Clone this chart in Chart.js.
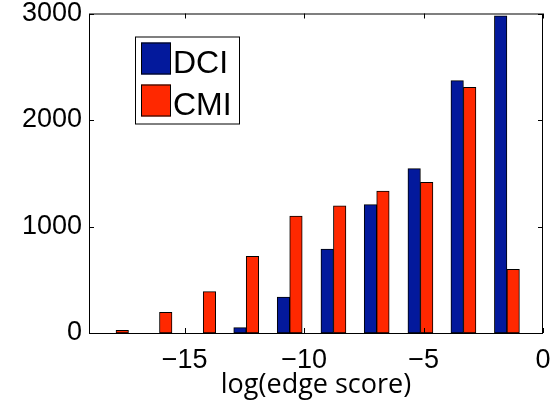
<!DOCTYPE html>
<html>
<head>
<meta charset="utf-8">
<script src="https://cdn.jsdelivr.net/npm/chart.js@4"></script>
<style>
  html, body { margin: 0; padding: 0; background: #fff; }
  #box { width: 553px; height: 408px; }
</style>
</head>
<body>
<div id="box"><canvas id="grafico"></canvas></div>
<script>
// bin centres of the histogram, log(edge score)
const binCenters = [-17.87, -16.05, -14.22, -12.42, -10.6, -8.77, -6.96, -5.13, -3.33, -1.51]
const dciCounts = [0, 0, 0, 50, 338, 789, 1205, 1543, 2369, 2977]
const cmiCounts = [25, 194, 388, 720, 1099, 1195, 1333, 1415, 2307, 598]
const xTicks = [-15, -10, -5, 0]
const yTicks = [0, 1000, 2000, 3000]

const azul = '#03199c'
const vermelho = '#ff2800'

const pontos = (vals) => binCenters.map((x, i) => ({ x: x, y: vals[i] }))
const menos = (v) => v < 0 ? '\u2212' + Math.abs(v) : String(v)

// legend box inside the plot + matlab style frame with inward ticks
const moldura = {
  id: 'moldura',
  afterDraw(chart) {
    const ctx = chart.ctx
    const a = chart.chartArea
    const sx = chart.scales.x, sy = chart.scales.y
    ctx.save()
    ctx.strokeStyle = '#000'
    ctx.lineWidth = 1
    ctx.strokeRect(a.left + 0.5, a.top + 0.5, a.right - a.left - 1, a.bottom - a.top)
    ctx.beginPath()
    xTicks.forEach(t => {
      const px = Math.round(sx.getPixelForValue(t)) + 0.5
      ctx.moveTo(px, a.bottom); ctx.lineTo(px, a.bottom - 5)
      ctx.moveTo(px, a.top); ctx.lineTo(px, a.top + 5)
    })
    yTicks.forEach(t => {
      const py = Math.round(sy.getPixelForValue(t)) + 0.5
      ctx.moveTo(a.left, py); ctx.lineTo(a.left + 5, py)
      ctx.moveTo(a.right, py); ctx.lineTo(a.right - 5, py)
    })
    ctx.stroke()

    // legend
    const lx = a.left + 46, ly = a.top + 23
    ctx.fillStyle = '#fff'
    ctx.fillRect(lx, ly, 104, 87)
    ctx.strokeRect(lx + 0.5, ly + 0.5, 104, 87)
    const itens = [['DCI', azul], ['CMI', vermelho]]
    ctx.font = '32px "Liberation Sans", Arial, sans-serif'
    ctx.textBaseline = 'alphabetic'
    itens.forEach((it, i) => {
      const y0 = ly + 6 + i * 42
      ctx.fillStyle = it[1]
      ctx.fillRect(lx + 6, y0, 30, 32)
      ctx.strokeRect(lx + 6.5, y0 + 0.5, 29, 31)
      ctx.fillStyle = '#000'
      ctx.fillText(it[0], lx + 38, y0 + 30)
    })
    ctx.restore()
  }
}

window.onload = () => {
  let contexto = document.getElementById('grafico').getContext('2d')
  let grafico = new Chart(contexto, {
    type: 'bar',
    data: {
      datasets: [{
        label: 'DCI',
        backgroundColor: azul,
        borderColor: '#000',
        borderWidth: 1,
        borderSkipped: false,
        data: pontos(dciCounts)
      }, {
        label: 'CMI',
        backgroundColor: vermelho,
        borderColor: '#000',
        borderWidth: 1,
        borderSkipped: false,
        data: pontos(cmiCounts)
      }]
    },
    options: {
      responsive: true,
      maintainAspectRatio: false,
      animation: false,
      barThickness: 12.5,
      layout: { padding: { top: 13.5, right: 10, left: 0, bottom: 0 } },
      plugins: { legend: { display: false }, tooltip: { enabled: false } },
      scales: {
        x: {
          type: 'linear',
          min: -19,
          max: 0,
          offset: false,
          afterBuildTicks: (s) => { s.ticks = xTicks.map(v => ({ value: v })) },
          afterFit: (s) => { s.height = 75; s.paddingLeft = 0; s.paddingRight = 0 },
          grid: { display: false, drawTicks: false },
          border: { display: false },
          ticks: {
            color: '#000',
            padding: 11,
            maxRotation: 0,
            font: { family: '"Liberation Sans", Arial, sans-serif', size: 27 },
            callback: (v) => menos(v)
          },
          title: {
            display: true,
            text: 'log(edge score)',
            color: '#000',
            padding: { top: 0, bottom: 6 },
            font: { family: '"Open Sans", sans-serif', size: 27 }
          }
        },
        y: {
          min: 0,
          max: 3000,
          afterBuildTicks: (s) => { s.ticks = yTicks.map(v => ({ value: v })) },
          afterFit: (s) => { s.width = 89; s.paddingTop = 0; s.paddingBottom = 0 },
          grid: { display: false, drawTicks: false },
          border: { display: false },
          ticks: {
            color: '#000',
            padding: 7,
            font: { family: '"Liberation Sans", Arial, sans-serif', size: 27 },
            callback: (v) => String(v)
          }
        }
      }
    },
    plugins: [moldura]
  })
}
</script>
</body>
</html>
